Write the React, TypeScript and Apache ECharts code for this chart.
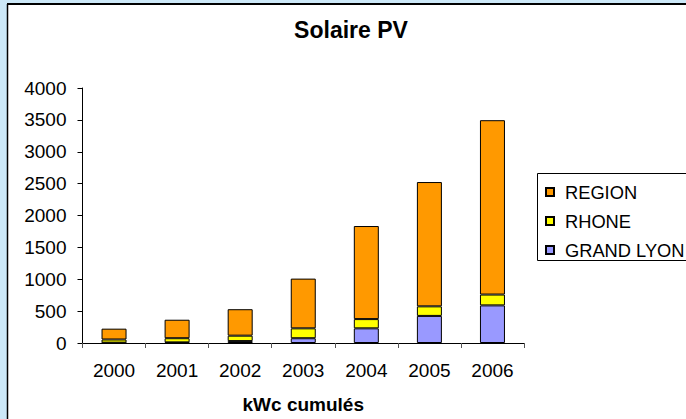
import React, { useEffect, useRef } from "react";
import * as echarts from "echarts";

const years = ["2000", "2001", "2002", "2003", "2004", "2005", "2006"];
const grandLyon = [5, 10, 30, 75, 230, 425, 590];
const rhone = [50, 65, 85, 155, 145, 150, 170];
const region = [170, 290, 415, 780, 1460, 1950, 2735];
const legendOrder = ["REGION", "RHONE", "GRAND LYON"];
const titleText = "Solaire PV";
const axisName = "kWc cumulés";

const FONT = "Liberation Sans, Arial, sans-serif";

export default function App() {
  const ref = useRef<HTMLDivElement>(null);
  useEffect(() => {
    if (!ref.current) return;
    const chart = echarts.init(ref.current, undefined, { renderer: "svg" });
    const barStyle = (color: string) => ({
      color,
      borderColor: "#000",
      borderWidth: 1,
    });
    chart.setOption({
      animation: false,
      textStyle: { fontFamily: FONT },
      graphic: [
        { type: "rect", z: -10, shape: { x: 0, y: 0, width: 686, height: 419 }, style: { fill: "#CCE8F8" }, silent: true },
        { type: "rect", z: -9, shape: { x: 7, y: 4, width: 700, height: 420 }, style: { fill: "#fff" }, silent: true },
        { type: "line", z: -8, shape: { x1: 7, y1: 4, x2: 700, y2: 4 }, style: { stroke: "#000", lineWidth: 2 }, silent: true },
        { type: "line", z: -8, shape: { x1: 7.5, y1: 4, x2: 7.5, y2: 430 }, style: { stroke: "#000", lineWidth: 1.5 }, silent: true },
        { type: "rect", z: -7, shape: { x: 537.5, y: 173.5, width: 200, height: 87 }, style: { fill: "#fff", stroke: "#000", lineWidth: 1 }, silent: true },
        {
          type: "text",
          x: 351,
          y: 30,
          style: {
            text: titleText,
            fontFamily: FONT,
            fontSize: 23,
            fontWeight: "bold",
            fill: "#000",
            align: "center",
            verticalAlign: "middle",
          },
          silent: true,
        },
      ],
      legend: {
        data: legendOrder,
        orient: "vertical",
        left: 545,
        top: 183,
        itemWidth: 8,
        itemHeight: 8,
        itemGap: 11,
        icon: "rect",
        padding: 0,
        textStyle: { fontFamily: FONT, fontSize: 18.3, color: "#000", lineHeight: 18, padding: [0, 0, 0, 6] },
      },
      grid: { left: 82.5, right: 162, top: 88, bottom: 71.5, containLabel: false },
      xAxis: {
        type: "category",
        data: years,
        boundaryGap: true,
        name: axisName,
        nameLocation: "middle",
        nameGap: 52,
        nameTextStyle: { fontFamily: FONT, fontSize: 19, fontWeight: "bold", color: "#000" },
        axisLine: { lineStyle: { color: "#000", width: 1 } },
        axisTick: { show: true, length: 5, lineStyle: { color: "#555" } },
        axisLabel: { fontFamily: FONT, fontSize: 19, color: "#000", margin: 18 },
        splitLine: { show: false },
      },
      yAxis: {
        type: "value",
        min: 0,
        max: 4000,
        interval: 500,
        axisLine: { show: true, lineStyle: { color: "#000", width: 1 } },
        axisTick: { show: true, length: 5, lineStyle: { color: "#000" } },
        axisLabel: { fontFamily: FONT, fontSize: 19, color: "#000", margin: 16, formatter: (v: number) => String(v) },
        splitLine: { show: false },
      },
      series: [
        { name: "GRAND LYON", type: "bar", stack: "t", barWidth: 25, data: grandLyon, itemStyle: barStyle("#9999FF") },
        { name: "RHONE", type: "bar", stack: "t", barWidth: 25, data: rhone, itemStyle: barStyle("#FFFF00") },
        { name: "REGION", type: "bar", stack: "t", barWidth: 25, data: region, itemStyle: barStyle("#FF9900") },
      ],
    });
    return () => chart.dispose();
  }, []);
  return (
    <div
      ref={ref}
      style={{ position: "fixed", left: 0, top: 0, width: 686, height: 419, background: "#fff" }}
    />
  );
}
